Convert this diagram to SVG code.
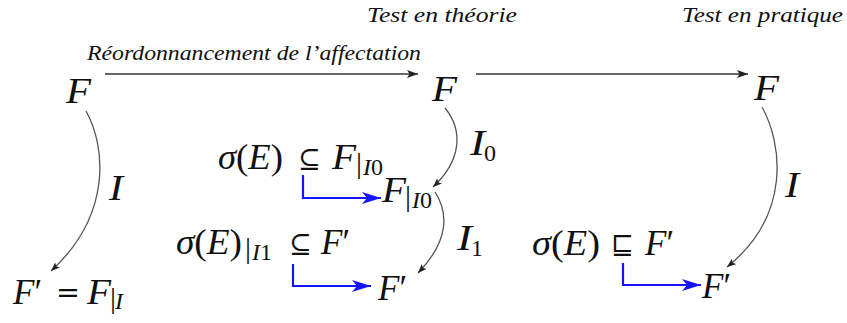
<svg xmlns="http://www.w3.org/2000/svg" width="847" height="323" viewBox="0 0 847 323">
<defs>
<style>
.title{font-family:"Liberation Serif",serif;font-style:italic;font-size:22px;fill:#111}
.m{font-family:"Liberation Serif",serif;font-style:italic;font-size:35px;fill:#111}
.s{font-family:"Liberation Serif",serif;font-style:italic;font-size:24px;fill:#111}
.u{font-style:normal}
.bar{font-family:"Liberation Serif",serif;font-style:normal;font-size:30px;fill:#111}
.sym{font-family:"DejaVu Serif",serif;font-style:normal;font-size:27px;fill:#111}
.curve{fill:none;stroke:#555;stroke-width:1.3}
.harrow{fill:none;stroke:#333;stroke-width:1.4}
.blue{fill:none;stroke:#1414ff;stroke-width:2.2}
</style>
<marker id="ah" markerUnits="userSpaceOnUse" markerWidth="12" markerHeight="10" refX="11" refY="4" orient="auto">
<path d="M0,0 L11,4 L0,8 L2.5,4 z" fill="#222"/>
</marker>
<marker id="ahs" markerUnits="userSpaceOnUse" markerWidth="10" markerHeight="8" refX="9" refY="3.5" orient="auto">
<path d="M0,0 L9,3.5 L0,7 L2,3.5 z" fill="#222"/>
</marker>
<marker id="ahb" markerUnits="userSpaceOnUse" markerWidth="20" markerHeight="14" refX="19" refY="6" orient="auto">
<path d="M0,0 L19,6 L0,12 L5,6 z" fill="#1414ff"/>
</marker>
</defs>

<g id="titles">
<text class="title" x="367" y="22" textLength="150" lengthAdjust="spacingAndGlyphs">Test en théorie</text>
<text class="title" x="682" y="22" textLength="161" lengthAdjust="spacingAndGlyphs">Test en pratique</text>
<text class="title" x="87" y="60" textLength="334" lengthAdjust="spacingAndGlyphs">Réordonnancement de l’affectation</text>
</g>

<g id="connectors">
<path class="harrow" d="M105,74 L418,74" marker-end="url(#ah)"/>
<path class="harrow" d="M476,74 L748,74" marker-end="url(#ah)"/>
<path class="curve" d="M86,111 C106,147 112,215 51,271" marker-end="url(#ahs)"/>
<path class="curve" d="M445,108 C463,130 462,160 433,187" marker-end="url(#ahs)"/>
<path class="curve" d="M435,192 C448,212 450,240 418,273" marker-end="url(#ahs)"/>
<path class="curve" d="M762,107 C782,143 792,215 727,267" marker-end="url(#ahs)"/>
<path class="blue" d="M303,175 L303,198 L381,198" marker-end="url(#ahb)"/>
<path class="blue" d="M293,264 L293,286 L371,286" marker-end="url(#ahb)"/>
<path class="blue" d="M623,263 L623,285 L701,285" marker-end="url(#ahb)"/>
</g>

<g id="labels">
<text class="m" x="109" y="200" textLength="14" lengthAdjust="spacingAndGlyphs">I</text>
<text class="m" x="470" y="155" textLength="15" lengthAdjust="spacingAndGlyphs">I</text><text class="s u" x="484" y="161">0</text>
<text class="m" x="457" y="250" textLength="15" lengthAdjust="spacingAndGlyphs">I</text><text class="s u" x="471" y="256">1</text>
<text class="m" x="785" y="197" textLength="14" lengthAdjust="spacingAndGlyphs">I</text>
</g>

<g id="F-left">
<text class="m" x="66" y="103" textLength="25" lengthAdjust="spacingAndGlyphs">F</text>
</g>
<g id="F-mid">
<text class="m" x="432" y="101" textLength="25" lengthAdjust="spacingAndGlyphs">F</text>
</g>
<g id="F-right">
<text class="m" x="754" y="100" textLength="25" lengthAdjust="spacingAndGlyphs">F</text>
</g>

<g id="F-prime-left">
<text class="m" x="13" y="304">F<tspan class="u">′</tspan></text>
<text class="sym" x="56" y="302" textLength="24" lengthAdjust="spacingAndGlyphs">=</text>
<text class="m" x="87" y="304" textLength="24" lengthAdjust="spacingAndGlyphs">F</text>
<text class="bar" x="110" y="308">|</text><text class="s" x="115" y="309">I</text>
</g>

<g id="cond-1">
<text class="m" x="218" y="169" textLength="65" lengthAdjust="spacingAndGlyphs">σ<tspan class="u">(</tspan>E<tspan class="u">)</tspan></text>
<text class="sym" x="298" y="168">⊆</text>
<text class="m" x="332" y="169" textLength="24" lengthAdjust="spacingAndGlyphs">F</text>
<text class="bar" x="356" y="173">|</text><text class="s" x="363" y="175">I<tspan class="u">0</tspan></text>
</g>

<g id="F-I0">
<text class="m" x="382" y="202" textLength="24" lengthAdjust="spacingAndGlyphs">F</text>
<text class="bar" x="405" y="206">|</text><text class="s" x="412" y="208">I<tspan class="u">0</tspan></text>
</g>

<g id="cond-2">
<text class="m" x="176" y="254" textLength="66" lengthAdjust="spacingAndGlyphs">σ<tspan class="u">(</tspan>E<tspan class="u">)</tspan></text>
<text class="bar" x="245" y="258">|</text><text class="s" x="252" y="260">I<tspan class="u">1</tspan></text>
<text class="sym" x="289" y="253">⊆</text>
<text class="m" x="321" y="254">F<tspan class="u">′</tspan></text>
</g>

<g id="F-prime-mid">
<text class="m" x="378" y="300">F<tspan class="u">′</tspan></text>
</g>

<g id="cond-3">
<text class="m" x="532" y="255" textLength="68" lengthAdjust="spacingAndGlyphs">σ<tspan class="u">(</tspan>E<tspan class="u">)</tspan></text>
<text class="sym" x="611" y="254">⊑</text>
<text class="m" x="645" y="255">F<tspan class="u">′</tspan></text>
</g>

<g id="F-prime-right">
<text class="m" x="702" y="298">F<tspan class="u">′</tspan></text>
</g>
</svg>
